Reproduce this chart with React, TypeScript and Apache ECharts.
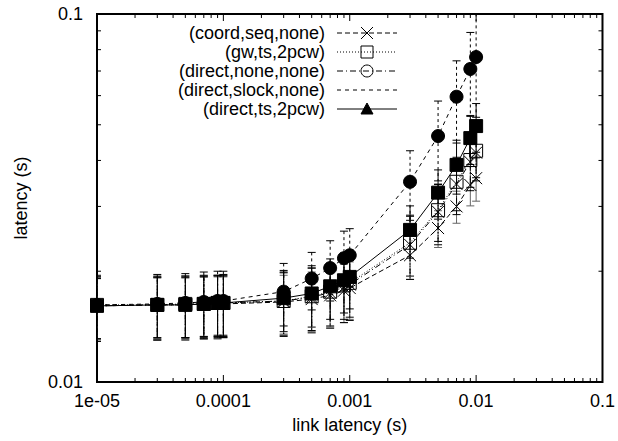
import React, { useEffect, useRef } from "react";
import * as echarts from "echarts";

// ---- data ----
const xValues = [1e-5, 3e-5, 5e-5, 7e-5, 9e-5, 1e-4, 3e-4, 5e-4, 7e-4, 9e-4, 1e-3, 3e-3, 5e-3, 7e-3, 9e-3, 1e-2];

const coordSeqNone = [0.0161, 0.0162, 0.0162, 0.0163, 0.0163, 0.0163, 0.0165, 0.0168, 0.0172, 0.0177, 0.018, 0.0221, 0.0262, 0.03, 0.0343, 0.0358];
const coordSeqNoneErr = [0.003, 0.003, 0.003, 0.003, 0.003, 0.003, 0.003, 0.0031, 0.0031, 0.0032, 0.0032, 0.0031, 0.003, 0.003, 0.0042, 0.0048];

const gwTs2pcw = [0.0162, 0.0162, 0.0163, 0.0163, 0.0164, 0.0164, 0.0166, 0.0171, 0.0176, 0.0183, 0.0186, 0.0239, 0.0293, 0.035, 0.0401, 0.0425];
const gwTs2pcwErr = [0.0031, 0.0031, 0.0031, 0.0031, 0.0031, 0.0031, 0.0032, 0.0033, 0.0034, 0.0035, 0.0036, 0.0045, 0.0052, 0.0058, 0.0063, 0.0066];

const directNoneNone = [0.0161, 0.0162, 0.0162, 0.0163, 0.0163, 0.0164, 0.0166, 0.017, 0.0175, 0.0181, 0.0184, 0.0236, 0.029, 0.0345, 0.0396, 0.042];
const directNoneNoneErr = [0.0032, 0.0032, 0.0032, 0.0032, 0.0032, 0.0032, 0.0033, 0.0034, 0.0035, 0.0036, 0.0037, 0.0046, 0.0054, 0.006, 0.0065, 0.0068];

const directSlockNone = [0.0162, 0.0163, 0.0164, 0.0165, 0.0166, 0.0166, 0.0176, 0.0191, 0.0204, 0.0217, 0.0221, 0.035, 0.0466, 0.0596, 0.0709, 0.0764];
const directSlockNoneErr = [0.0033, 0.0033, 0.0033, 0.0034, 0.0034, 0.0034, 0.0034, 0.0034, 0.0038, 0.004, 0.004, 0.0075, 0.0114, 0.015, 0.0182, 0.024];

const directTs2pcw = [0.0161, 0.0162, 0.0162, 0.0163, 0.0164, 0.0164, 0.0169, 0.0174, 0.0182, 0.0189, 0.0193, 0.0259, 0.0327, 0.0389, 0.046, 0.0496];
const directTs2pcwErr = [0.003, 0.003, 0.003, 0.003, 0.003, 0.003, 0.0032, 0.0033, 0.0034, 0.0035, 0.0035, 0.0042, 0.005, 0.0065, 0.007, 0.0075];

const seriesNames = ["(coord,seq,none)", "(gw,ts,2pcw)", "(direct,none,none)", "(direct,slock,none)", "(direct,ts,2pcw)"];
const seriesValues = [coordSeqNone, gwTs2pcw, directNoneNone, directSlockNone, directTs2pcw];
const seriesErrors = [coordSeqNoneErr, gwTs2pcwErr, directNoneNoneErr, directSlockNoneErr, directTs2pcwErr];

const xTickLabels = ["1e-05", "0.0001", "0.001", "0.01", "0.1"];
const yTickLabels = ["0.01", "0.1"];
const xDecades = [1e-5, 1e-4, 1e-3, 1e-2];
const yDecades = [0.01];
const minorMultipliers = [2, 3, 4, 5, 6, 7, 8, 9];

const X_MIN = 1e-5;
const X_MAX = 0.1;
const Y_MIN = 0.01;
const Y_MAX = 0.1;

// ---- styles ----
const FONT = "Liberation Sans, Arial, sans-serif";
const X_SYMBOL = "path://M0,0L10,10M10,0L0,10";

const styles = [
  { dash: [5, 3] as number[] | null, symbol: X_SYMBOL, size: 12, fill: "rgba(0,0,0,0)", errStroke: "#666", errDash: null as number[] | null },
  { dash: [1, 2], symbol: "rect", size: 13, fill: "rgba(0,0,0,0)", errStroke: "#000", errDash: [1, 2] },
  { dash: [6, 3, 1, 3], symbol: X_SYMBOL, size: 12, fill: "rgba(0,0,0,0)", errStroke: "#000", errDash: [6, 3, 1, 3] },
  { dash: [4, 4], symbol: "circle", size: 13, fill: "#000", errStroke: "#000", errDash: [3, 3] },
  { dash: null, symbol: "rect", size: 13, fill: "#000", errStroke: "#000", errDash: null },
];

const legendX = 325;
const legendY0 = 33;
const legendStep = 19;
const sampleX1 = 337;
const sampleX2 = 397;
const markX = 367;

function legendGraphics() {
  const els: any[] = [];
  seriesNames.forEach((name, i) => {
    const y = legendY0 + i * legendStep;
    const st = styles[i];
    els.push({
      type: "text",
      z: 100,
      style: {
        text: name,
        x: legendX,
        y,
        textAlign: "right",
        textVerticalAlign: "middle",
        align: "right",
        verticalAlign: "middle",
        font: `18px ${FONT}`,
        fill: "#000",
      },
    });
    els.push({
      type: "line",
      z: 100,
      shape: { x1: sampleX1, y1: y, x2: sampleX2, y2: y },
      style: { stroke: "#000", lineWidth: 1, lineDash: st.dash || undefined },
    });
    if (i === 0) {
      els.push({ type: "line", z: 101, shape: { x1: markX - 6, y1: y - 6, x2: markX + 6, y2: y + 6 }, style: { stroke: "#000", lineWidth: 1 } });
      els.push({ type: "line", z: 101, shape: { x1: markX + 6, y1: y - 6, x2: markX - 6, y2: y + 6 }, style: { stroke: "#000", lineWidth: 1 } });
    } else if (i === 1) {
      els.push({ type: "rect", z: 101, shape: { x: markX - 6, y: y - 6, width: 12, height: 12 }, style: { fill: "none", stroke: "#000", lineWidth: 1 } });
    } else if (i === 2) {
      els.push({ type: "circle", z: 101, shape: { cx: markX, cy: y, r: 6 }, style: { fill: "none", stroke: "#000", lineWidth: 1 } });
    } else if (i === 4) {
      els.push({ type: "polygon", z: 101, shape: { points: [[markX - 6, y + 5], [markX + 6, y + 5], [markX, y - 6]] }, style: { fill: "#000", stroke: "#000" } });
    }
  });
  return els;
}

export default function App() {
  const ref = useRef<HTMLDivElement>(null);
  useEffect(() => {
    if (!ref.current) return;
    const chart = echarts.init(ref.current, null, { renderer: "svg" });

    const xTickData: number[][] = [];
    xDecades.forEach((d) => {
      xTickData.push([d, Y_MIN, 1]);
      minorMultipliers.forEach((m) => xTickData.push([d * m, Y_MIN, 0]));
    });
    xTickData.push([X_MAX, Y_MIN, 1]);

    const yTickData: number[][] = [];
    yDecades.forEach((d) => {
      yTickData.push([X_MIN, d, 1]);
      minorMultipliers.forEach((m) => yTickData.push([X_MIN, d * m, 0]));
    });
    yTickData.push([X_MIN, Y_MAX, 1]);

    const series: any[] = [];

    series.push({
      type: "custom",
      name: "xticks",
      silent: true,
      clip: false,
      z: 5,
      data: xTickData,
      encode: { x: 0, y: 1 },
      renderItem: (_p: any, api: any) => {
        const v = api.value(0);
        const len = api.value(2) === 1 ? 7 : 4;
        const b = api.coord([v, Y_MIN]);
        const t = api.coord([v, Y_MAX]);
        return {
          type: "group",
          children: [
            { type: "line", shape: { x1: b[0], y1: b[1], x2: b[0], y2: b[1] - len }, style: { stroke: "#000", lineWidth: 1 } },
            { type: "line", shape: { x1: t[0], y1: t[1], x2: t[0], y2: t[1] + len }, style: { stroke: "#000", lineWidth: 1 } },
          ],
        };
      },
    });
    series.push({
      type: "custom",
      name: "yticks",
      silent: true,
      clip: false,
      z: 5,
      data: yTickData,
      encode: { x: 0, y: 1 },
      renderItem: (_p: any, api: any) => {
        const v = api.value(1);
        const len = api.value(2) === 1 ? 7 : 4;
        const l = api.coord([X_MIN, v]);
        const r = api.coord([X_MAX, v]);
        return {
          type: "group",
          children: [
            { type: "line", shape: { x1: l[0], y1: l[1], x2: l[0] + len, y2: l[1] }, style: { stroke: "#000", lineWidth: 1 } },
            { type: "line", shape: { x1: r[0], y1: r[1], x2: r[0] - len, y2: r[1] }, style: { stroke: "#000", lineWidth: 1 } },
          ],
        };
      },
    });

    seriesNames.forEach((name, i) => {
      const st = styles[i];
      const vals = seriesValues[i];
      const errs = seriesErrors[i];
      series.push({
        type: "custom",
        name: name + " err",
        silent: true,
        clip: true,
        data: xValues.map((x, k) => [x, vals[k], errs[k]]),
        encode: { x: 0, y: 1 },
        renderItem: (_p: any, api: any) => {
          const x = api.value(0);
          const y = api.value(1);
          const e = api.value(2);
          const top = api.coord([x, y + e]);
          const bot = api.coord([x, y - e]);
          const cap = 4;
          const s = { stroke: st.errStroke, lineWidth: 1 };
          return {
            type: "group",
            children: [
              { type: "line", shape: { x1: top[0], y1: top[1], x2: bot[0], y2: bot[1] }, style: { ...s, lineDash: st.errDash || undefined } },
              { type: "line", shape: { x1: top[0] - cap, y1: top[1], x2: top[0] + cap, y2: top[1] }, style: s },
              { type: "line", shape: { x1: bot[0] - cap, y1: bot[1], x2: bot[0] + cap, y2: bot[1] }, style: s },
            ],
          };
        },
      });
      series.push({
        type: "line",
        name,
        clip: false,
        data: xValues.map((x, k) => [x, vals[k]]),
        symbol: st.symbol,
        symbolSize: st.size,
        showAllSymbol: true,
        lineStyle: { color: "#000", width: 1, type: st.dash || "solid" },
        itemStyle: { color: st.fill, borderColor: "#000", borderWidth: 1, opacity: 1 },
        emphasis: { disabled: true },
      });
    });

    const option: any = {
      animation: false,
      backgroundColor: "#fff",
      grid: {
        left: 97,
        right: 11,
        top: 14,
        bottom: 59,
        show: true,
        borderColor: "#000",
        borderWidth: 2,
        backgroundColor: "transparent",
      },
      xAxis: {
        type: "log",
        logBase: 10,
        min: X_MIN,
        max: X_MAX,
        name: "link latency (s)",
        nameLocation: "middle",
        nameGap: 34,
        nameTextStyle: { fontFamily: FONT, fontSize: 18, color: "#000" },
        axisLine: { show: false },
        axisTick: { show: false },
        splitLine: { show: false },
        axisLabel: {
          margin: 10,
          fontFamily: FONT,
          fontSize: 18,
          color: "#000",
          formatter: (_v: number, idx: number) => xTickLabels[idx] ?? "",
        },
      },
      yAxis: {
        type: "log",
        logBase: 10,
        min: Y_MIN,
        max: Y_MAX,
        name: "latency (s)",
        nameLocation: "middle",
        nameGap: 67,
        nameRotate: 90,
        nameTextStyle: { fontFamily: FONT, fontSize: 18, color: "#000" },
        axisLine: { show: false },
        axisTick: { show: false },
        splitLine: { show: false },
        axisLabel: {
          margin: 14,
          fontFamily: FONT,
          fontSize: 18,
          color: "#000",
          formatter: (_v: number, idx: number) => yTickLabels[idx] ?? "",
        },
      },
      graphic: legendGraphics(),
      series,
    };

    chart.setOption(option);
    return () => chart.dispose();
  }, []);

  return (
    <div
      ref={ref}
      style={{ position: "fixed", left: 0, top: 0, width: 618, height: 441, background: "#fff" }}
    />
  );
}
